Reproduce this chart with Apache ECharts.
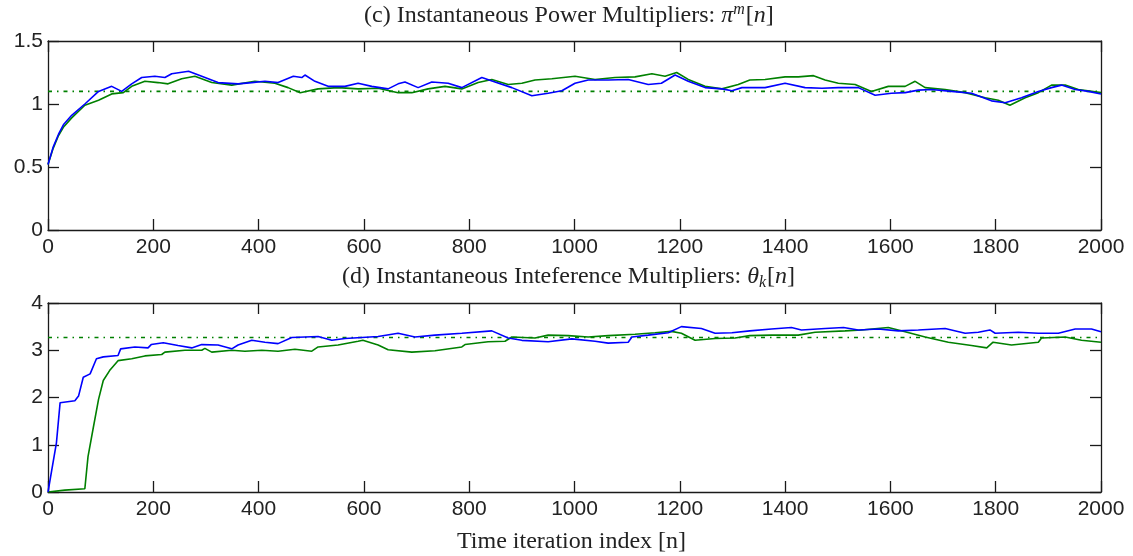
<!DOCTYPE html>
<html><head><meta charset="utf-8">
<script src="https://cdn.jsdelivr.net/npm/echarts@6/dist/echarts.min.js"></script>
<style>html,body{margin:0;padding:0;background:#fff}#c{width:1133px;height:556px}</style>
</head><body><div id="c"></div>
<script>
// ---- data ----
const xTicksMax = 2000;
const powerRef = 1.1;
const interfRef = 3.27;
const powerBlue = [[0,0.52],[10,0.66],[20,0.76],[30,0.84],[45,0.91],[70,1.00],[96,1.10],[121,1.14],[140,1.10],[159,1.16],[178,1.21],[203,1.22],[222,1.21],[235,1.24],[267,1.26],[292,1.22],[323,1.17],[361,1.16],[387,1.17],[412,1.18],[437,1.17],[466,1.22],[482,1.21],[488,1.23],[507,1.18],[532,1.14],[564,1.14],[589,1.165],[615,1.14],[646,1.12],[665,1.16],[678,1.175],[703,1.13],[729,1.175],[760,1.165],[786,1.13],[824,1.21],[849,1.175],[881,1.13],[919,1.065],[950,1.085],[976,1.105],[1001,1.165],[1026,1.19],[1064,1.19],[1102,1.195],[1140,1.155],[1165,1.165],[1191,1.23],[1216,1.18],[1248,1.13],[1280,1.12],[1299,1.105],[1318,1.13],[1340,1.13],[1362,1.13],[1400,1.165],[1438,1.13],[1470,1.125],[1501,1.13],[1539,1.13],[1571,1.07],[1602,1.085],[1628,1.09],[1653,1.11],[1678,1.115],[1716,1.10],[1754,1.085],[1792,1.025],[1818,1.01],[1849,1.05],[1881,1.10],[1906,1.13],[1925,1.15],[1951,1.115],[1976,1.10],[2000,1.08]];
const powerGreen = [[0,0.52],[10,0.65],[20,0.75],[30,0.82],[45,0.89],[70,0.99],[96,1.03],[121,1.08],[143,1.09],[159,1.14],[184,1.18],[209,1.17],[228,1.16],[254,1.20],[279,1.22],[311,1.17],[349,1.15],[393,1.18],[431,1.165],[456,1.13],[479,1.09],[513,1.12],[551,1.13],[589,1.12],[627,1.125],[665,1.09],[691,1.09],[722,1.12],[754,1.14],[786,1.12],[817,1.17],[843,1.195],[874,1.155],[900,1.165],[925,1.19],[957,1.2],[1001,1.22],[1039,1.195],[1077,1.21],[1115,1.215],[1147,1.24],[1172,1.22],[1194,1.25],[1216,1.195],[1248,1.14],[1280,1.12],[1311,1.155],[1333,1.19],[1362,1.195],[1400,1.215],[1425,1.215],[1454,1.225],[1476,1.19],[1501,1.165],[1533,1.155],[1564,1.10],[1596,1.14],[1628,1.14],[1647,1.18],[1666,1.13],[1704,1.115],[1742,1.09],[1780,1.05],[1805,1.03],[1827,0.99],[1856,1.05],[1881,1.09],[1906,1.15],[1932,1.15],[1957,1.115],[2000,1.09]];
const interfBlue = [[0,0],[16,1.04],[23,1.89],[51,1.93],[58,2.03],[67,2.43],[80,2.50],[92,2.82],[105,2.86],[133,2.89],[138,3.03],[165,3.07],[190,3.05],[196,3.12],[219,3.16],[247,3.10],[273,3.05],[292,3.12],[323,3.11],[349,3.03],[361,3.11],[387,3.21],[412,3.17],[437,3.14],[463,3.27],[488,3.28],[513,3.29],[539,3.21],[564,3.25],[596,3.27],[627,3.29],[665,3.36],[697,3.28],[735,3.32],[786,3.36],[843,3.41],[874,3.26],[900,3.21],[950,3.18],[995,3.24],[1039,3.19],[1064,3.15],[1102,3.17],[1109,3.28],[1140,3.32],[1178,3.37],[1203,3.50],[1241,3.46],[1267,3.36],[1299,3.37],[1333,3.41],[1374,3.45],[1412,3.48],[1431,3.43],[1476,3.46],[1511,3.48],[1539,3.43],[1577,3.45],[1615,3.41],[1653,3.43],[1704,3.46],[1742,3.36],[1767,3.38],[1789,3.43],[1799,3.36],[1843,3.38],[1881,3.36],[1919,3.36],[1951,3.45],[1982,3.45],[2000,3.39]];
const interfGreen = [[0,0],[32,0.04],[70,0.07],[76,0.75],[86,1.36],[96,1.96],[105,2.36],[117,2.57],[133,2.78],[159,2.82],[184,2.88],[216,2.91],[222,2.96],[260,3.0],[292,3.0],[298,3.04],[311,2.96],[349,3.0],[374,2.98],[406,3.0],[437,2.98],[469,3.02],[501,2.98],[513,3.07],[551,3.11],[589,3.19],[598,3.21],[627,3.11],[646,3.01],[691,2.96],[735,2.99],[786,3.07],[792,3.12],[836,3.18],[868,3.19],[881,3.28],[925,3.26],[950,3.32],[988,3.31],[1026,3.28],[1064,3.31],[1115,3.34],[1153,3.37],[1184,3.40],[1203,3.36],[1229,3.21],[1267,3.25],[1305,3.26],[1333,3.31],[1374,3.32],[1425,3.32],[1457,3.38],[1514,3.41],[1545,3.43],[1596,3.48],[1628,3.39],[1666,3.28],[1710,3.17],[1754,3.10],[1783,3.05],[1795,3.17],[1830,3.11],[1881,3.17],[1887,3.26],[1932,3.28],[1963,3.21],[2000,3.17]];
const titleC = ['(c) Instantaneous Power Multipliers: ', 'π', 'm', 'n'];
const titleD = ['(d) Instantaneous Inteference Multipliers: ', 'θ', 'k', 'n'];
const xLabel = 'Time iteration index [n]';

// ---- chart ----
const chart = echarts.init(document.getElementById('c'), null, {renderer: 'canvas'});
const AX = '#1a1a1a';
const tickFont = {fontFamily: 'Liberation Sans', fontSize: 21, color: '#222'};
function plain(v) { return String(Math.round(v * 100) / 100); }
function xAx(grid, pos, labels) {
  return {type: 'value', gridIndex: grid, position: pos, min: 0, max: xTicksMax, interval: 200,
    axisLine: {show: true, onZero: false, lineStyle: {color: AX, width: 1.3}},
    axisTick: {show: true, inside: true, length: 11, lineStyle: {color: AX, width: 1.3}},
    axisLabel: Object.assign({show: labels, margin: 7, formatter: plain}, tickFont),
    splitLine: {show: false}};
}
function yAx(grid, pos, max, interval, labels) {
  return {type: 'value', gridIndex: grid, position: pos, min: 0, max: max, interval: interval,
    axisLine: {show: true, onZero: false, lineStyle: {color: AX, width: 1.3}},
    axisTick: {show: true, inside: true, length: 11, lineStyle: {color: AX, width: 1.3}},
    axisLabel: Object.assign({show: labels, margin: 5, formatter: plain}, tickFont),
    splitLine: {show: false}};
}
function line(data, color, xi, yi, z) {
  return {type: 'line', data: data, xAxisIndex: xi, yAxisIndex: yi, showSymbol: false, symbol: 'none',
    lineStyle: {color: color, width: 1.6}, z: z, animation: false};
}
function ref(v, xi, yi) {
  return {type: 'line', data: [[0, v], [xTicksMax, v]], xAxisIndex: xi, yAxisIndex: yi, symbol: 'none',
    lineStyle: {color: '#008000', width: 1.7, type: [4, 5, 1.5, 5]}, z: 1, animation: false};
}
function mathTitle(parts, x, y, subMode) {
  const sz = 24;
  const rich = {
    n: {fontFamily: 'Liberation Serif', fontSize: sz, fill: '#222'},
    i: {fontFamily: 'Liberation Serif', fontStyle: 'italic', fontSize: sz, fill: '#222'},
    s: {fontFamily: 'Liberation Serif', fontStyle: 'italic', fontSize: 16, fill: '#222',
        padding: subMode ? [12, 1, 0, 0] : [0, 1, 12, 0]}
  };
  return {type: 'text', left: x, top: y, style: {
    text: '{n|' + parts[0] + '}{i|' + parts[1] + '}{s|' + parts[2] + '}{n|[}{i|' + parts[3] + '}{n|]}',
    rich: rich, fill: '#222'}};
}
chart.setOption({
  animation: false,
  backgroundColor: '#fff',
  grid: [
    {left: 48, top: 41, width: 1053, height: 189, containLabel: false},
    {left: 48, top: 303, width: 1053, height: 189, containLabel: false}
  ],
  xAxis: [xAx(0, 'bottom', true), xAx(0, 'top', false), xAx(1, 'bottom', true), xAx(1, 'top', false)],
  yAxis: [yAx(0, 'left', 1.5, 0.5, true), yAx(0, 'right', 1.5, 0.5, false), yAx(1, 'left', 4, 1, true), yAx(1, 'right', 4, 1, false)],
  series: [
    ref(powerRef, 0, 0),
    line(powerBlue, '#0000ff', 0, 0, 3),
    line(powerGreen, '#008000', 0, 0, 2),
    ref(interfRef, 2, 2),
    line(interfBlue, '#0000ff', 2, 2, 3),
    line(interfGreen, '#008000', 2, 2, 2)
  ],
  graphic: [
    mathTitle(titleC, 364, 2, false),
    mathTitle(titleD, 342, 265, true),
    {type: 'text', left: 457, top: 530, style: {text: xLabel, font: '24px "Liberation Serif"', fill: '#222'}}
  ]
});
</script>
</body></html>
